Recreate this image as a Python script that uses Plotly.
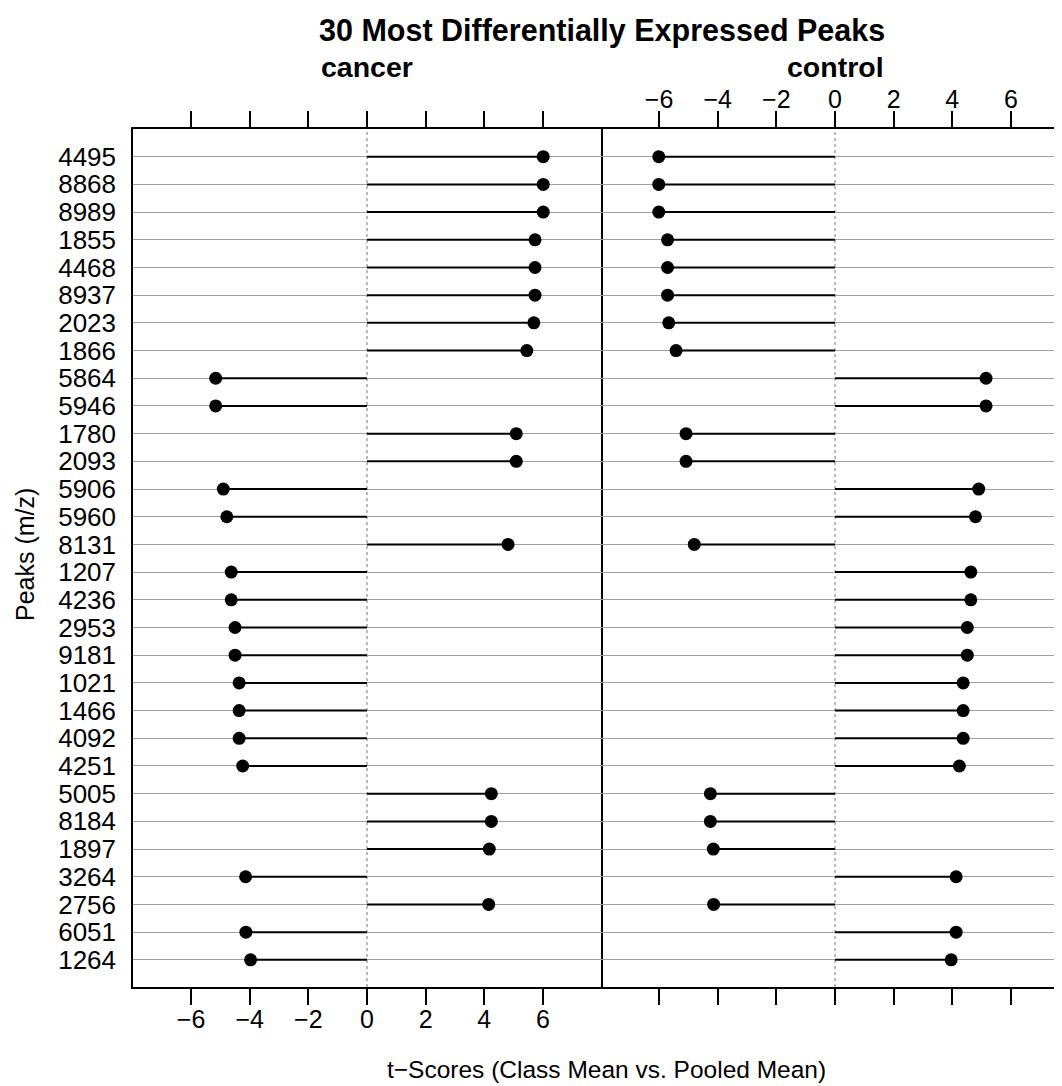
import plotly.graph_objects as go

peaks = ["4495", "8868", "8989", "1855", "4468", "8937", "2023", "1866", "5864", "5946",
         "1780", "2093", "5906", "5960", "8131", "1207", "4236", "2953", "9181", "1021",
         "1466", "4092", "4251", "5005", "8184", "1897", "3264", "2756", "6051", "1264"]
cancer = [6.01, 6.01, 6.01, 5.73, 5.73, 5.73, 5.69, 5.45, -5.16, -5.16,
          5.09, 5.09, -4.90, -4.78, 4.81, -4.63, -4.63, -4.50, -4.50, -4.36,
          -4.36, -4.36, -4.24, 4.24, 4.24, 4.17, -4.14, 4.15, -4.13, -3.97]
control = [-6.01, -6.01, -6.01, -5.71, -5.71, -5.71, -5.67, -5.42, 5.15, 5.15,
           -5.08, -5.08, 4.90, 4.79, -4.80, 4.63, 4.63, 4.51, 4.51, 4.37,
           4.37, 4.37, 4.24, -4.25, -4.25, -4.15, 4.13, -4.14, 4.13, 3.96]
panels = ["cancer", "control"]
tick_vals = [-6, -4, -2, 0, 2, 4, 6]

FONT = "Liberation Sans, Arial, Helvetica, sans-serif"
OFF = 8  # page body margin offset
W, H = 1062 - OFF, 1086 - OFF
ML, MR, MT, MB = 133 - OFF, 0, 129 - OFF, 99
PW = W - ML - MR
PH = H - MT - MB
BOT = MT + PH  # figure pixel of the plot bottom
split = 468 / PW


def py(screen_y):
    return (BOT - (screen_y - OFF)) / PH


def px(screen_x):
    return ((screen_x - OFF) - ML) / PW


fig = go.Figure()

for vals, xa, ya in [(cancer, "x", "y"), (control, "x2", "y2")]:
    sx, sy = [], []
    for p, v in zip(peaks, vals):
        sx += [0, v, None]
        sy += [p, p, None]
    fig.add_trace(go.Scatter(x=sx, y=sy, mode="lines", xaxis=xa, yaxis=ya,
                             line=dict(color="black", width=2), hoverinfo="skip",
                             showlegend=False))
    fig.add_trace(go.Scatter(x=vals, y=peaks, mode="markers", xaxis=xa, yaxis=ya,
                             marker=dict(color="black", size=13, line=dict(width=0)),
                             showlegend=False))

for xr in ["x", "x2"]:
    fig.add_shape(type="line", xref=xr, yref="paper", x0=0, x1=0, y0=0, y1=1,
                  line=dict(color="#777777", width=1, dash="dot"), layer="below")

xcommon = dict(tickvals=tick_vals, ticks="outside", ticklen=16, tickwidth=1.5,
               tickcolor="black", showline=True, linecolor="black", linewidth=1.5,
               mirror="ticks", showgrid=False, zeroline=False, ticklabelstandoff=-7,
               tickfont=dict(family=FONT, size=25, color="black"))
ycommon = dict(type="category", categoryorder="array", categoryarray=peaks,
               tickmode="array", tickvals=peaks, ticktext=peaks,
               range=[29.98, -1.0], showgrid=True, gridcolor="#a0a0a0", gridwidth=1.3,
               zeroline=False, ticks="")

fig.update_layout(
    width=W, height=H,
    margin=dict(l=ML, r=MR, t=MT, b=MB),
    paper_bgcolor="white", plot_bgcolor="white",
    font=dict(family=FONT, size=24, color="black"),
    xaxis=dict(domain=[0, split], range=[-7.98, 7.98], side="bottom", anchor="y", **xcommon),
    xaxis2=dict(domain=[split, 1], range=[-7.98, 7.74], side="top", anchor="y2", **xcommon),
    yaxis=dict(anchor="x", showline=True, linecolor="black", linewidth=1.5, mirror=True,
               ticklabelstandoff=10,
               tickfont=dict(family=FONT, size=26, color="black"), **ycommon),
    yaxis2=dict(anchor="x2", matches="y", showline=False, showticklabels=False, **ycommon),
    annotations=[
        dict(text="<b>30 Most Differentially Expressed Peaks</b>", x=px(602), y=py(31),
             xref="paper", yref="paper", showarrow=False, xanchor="center", yanchor="middle",
             font=dict(family=FONT, size=30.5, color="black")),
        dict(text="<b>" + panels[0] + "</b>", x=0, y=py(67),
             xref="x", yref="paper", showarrow=False, xanchor="center", yanchor="middle",
             font=dict(family=FONT, size=28.5, color="black")),
        dict(text="<b>" + panels[1] + "</b>", x=0, y=py(67),
             xref="x2", yref="paper", showarrow=False, xanchor="center", yanchor="middle",
             font=dict(family=FONT, size=28.5, color="black")),
        dict(text="t\u2212Scores (Class Mean vs. Pooled Mean)", x=px(606),
             y=py(1069), xref="paper", yref="paper", showarrow=False,
             xanchor="center", yanchor="middle", font=dict(family=FONT, size=24.5, color="black")),
        dict(text="Peaks (m/z)", x=px(25), y=py(555), textangle=-90,
             xref="paper", yref="paper", showarrow=False,
             xanchor="center", yanchor="middle", font=dict(family=FONT, size=25, color="black")),
    ],
)

fig.write_html("out.html")
